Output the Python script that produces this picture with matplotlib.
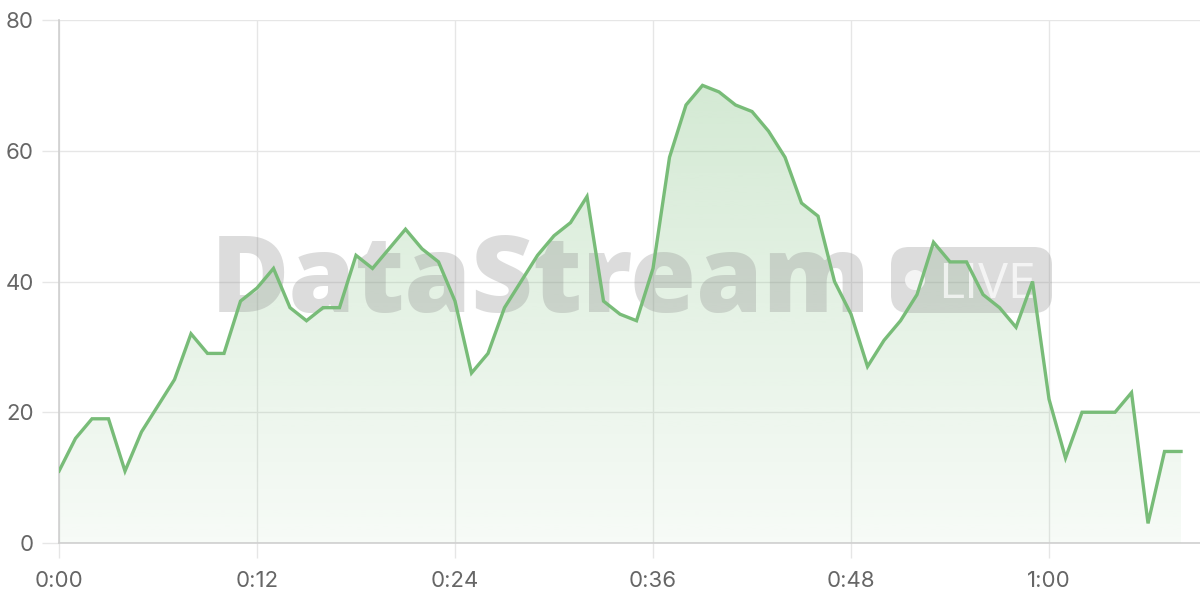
import numpy as np
import matplotlib
matplotlib.use("Agg")
import matplotlib.pyplot as plt
from matplotlib.patches import FancyBboxPatch, Circle
from matplotlib.transforms import IdentityTransform

# viewers per minute of the stream
minutes = list(range(69))
viewers = [11, 16, 19, 19, 11, 17, 21, 25, 32, 29, 29, 37, 39, 42, 36, 34, 36, 36,
           44, 42, 45, 48, 45, 43, 37, 26, 29, 36, 40, 44, 47, 49, 53, 37, 35, 34,
           42, 59, 67, 70, 69, 67, 66, 63, 59, 52, 50, 40, 35, 27, 31, 34, 38, 46,
           43, 43, 38, 36, 33, 40, 22, 13, 20, 20, 20, 23, 3, 14, 14]
x_ticks = [0, 12, 24, 36, 48, 60]
x_labels = ["0:00", "0:12", "0:24", "0:36", "0:48", "1:00"]
y_ticks = [0, 20, 40, 60, 80]

green = "#78bc78"
grid_col = "#e6e6e6"
axis_col = "#cfcfcf"
text_col = "#666666"

fig = plt.figure(figsize=(12, 6), dpi=100)
ax = fig.add_axes([59 / 1200, 57 / 600, 1 - 59 / 1200, (543 - 20) / 600])

ax.set_xlim(0, 69.15)
ax.set_ylim(0, 80)

# gradient fill under the line
top = max(viewers)
grad = np.zeros((256, 1, 4))
rgb = matplotlib.colors.to_rgb(green)
grad[:, 0, 0] = rgb[0]
grad[:, 0, 1] = rgb[1]
grad[:, 0, 2] = rgb[2]
grad[:, 0, 3] = np.linspace(0.06, 0.32, 256)
img = ax.imshow(grad, extent=[0, minutes[-1], 0, top], origin="lower",
                aspect="auto", zorder=1, interpolation="bilinear")
poly = ax.fill_between(minutes, viewers, 0, facecolor="none", edgecolor="none")
img.set_clip_path(poly.get_paths()[0], transform=ax.transData)

ax.plot(minutes, viewers, color=green, lw=2.4, zorder=4, solid_joinstyle="miter")

# watermark
wm = ax.text(211, 600 - 312, "DataStream", transform=IdentityTransform(),
             fontsize=83, fontweight="heavy", family="Open Sans",
             color="#8c8c8c", alpha=0.3, ha="left", va="baseline", zorder=3)
fig.canvas.draw()
w = wm.get_window_extent().width
wm.set_fontsize(83 * 660 / w)

badge = FancyBboxPatch((891 + 18, 287 + 18), 161 - 36, 66 - 36,
                       boxstyle="round,pad=18", transform=IdentityTransform(),
                       facecolor="#8c8c8c", edgecolor="none", alpha=0.3,
                       zorder=3, clip_on=False)
ax.add_patch(badge)
ax.add_patch(Circle((915, 320), 10, transform=IdentityTransform(),
                    facecolor="white", edgecolor="none", alpha=0.7,
                    zorder=3, clip_on=False))
ax.text(938, 302, "LIVE", transform=IdentityTransform(), fontsize=36,
        family="Open Sans", fontweight="medium", color="white", alpha=0.7,
        ha="left", va="baseline", zorder=3)

ax.set_xticks(x_ticks)
ax.set_xticklabels(x_labels)
ax.set_yticks(y_ticks)
ax.grid(True, color=grid_col, lw=1.0, zorder=0)
ax.set_axisbelow(True)

for s in ["top", "right"]:
    ax.spines[s].set_visible(False)
for s in ["left", "bottom"]:
    ax.spines[s].set_color(axis_col)
    ax.spines[s].set_linewidth(1.2)

ax.tick_params(axis="both", colors=grid_col, labelcolor=text_col, labelsize=16)
ax.tick_params(axis="y", length=12, width=1.0, pad=6)
ax.tick_params(axis="x", length=11, width=1.0, pad=9)
for lab in ax.get_xticklabels() + ax.get_yticklabels():
    lab.set_family("Inter")

fig.savefig("out.png", dpi=100)
